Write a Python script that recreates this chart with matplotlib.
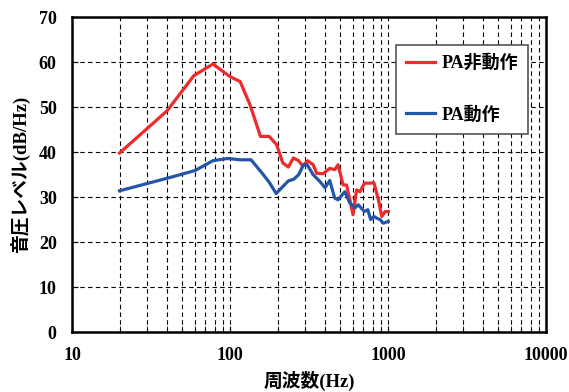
import matplotlib
matplotlib.use('Agg')
import matplotlib.pyplot as plt
from matplotlib.ticker import FixedLocator, NullFormatter

plt.rcParams['font.family'] = ['Liberation Serif', 'Noto Sans CJK JP']

# PA非動作 (red)
freq_off = [20, 40, 59, 78, 100, 116, 134, 156, 177, 197, 216, 234, 252, 272,
            289, 310, 336, 354, 389, 428, 460, 483, 520, 547, 574, 601, 633,
            665, 710, 770, 815, 870, 914, 960, 1005]
level_off = [39.8, 49.2, 57.0, 59.6, 56.8, 55.7, 50.5, 43.5, 43.5, 41.7, 37.6,
             36.7, 38.7, 38.1, 36.9, 38.1, 37.2, 35.3, 35.2, 36.4, 36.1, 37.2,
             32.7, 32.7, 29.4, 26.1, 31.6, 31.2, 33.1, 33.1, 33.2, 29.4, 25.7,
             26.8, 26.8]

# PA動作 (blue)
freq_on = [20, 40, 60, 78, 97, 116, 136, 160, 178, 196, 234, 254, 272, 292,
           308, 336, 370, 400, 428, 460, 483, 533, 574, 618, 648, 710, 746,
           777, 815, 851, 893, 934, 1005]
level_on = [31.4, 34.2, 35.9, 38.1, 38.6, 38.3, 38.3, 35.3, 33.2, 30.8, 33.6,
            34.0, 35.0, 37.2, 37.2, 35.0, 33.5, 32.1, 33.7, 29.8, 29.4, 31.2,
            28.7, 27.6, 28.3, 26.8, 27.2, 25.0, 25.7, 25.3, 25.0, 24.2, 24.6]

x_ticks = [10, 100, 1000, 10000]
y_ticks = [0, 10, 20, 30, 40, 50, 60, 70]

fig = plt.figure(figsize=(5.69, 3.92), dpi=100)
ax = fig.add_axes([0.1265, 0.153, 0.833, 0.803])

ax.plot(freq_off, level_off, color='#EE2A2A', lw=2.3, label='PA非動作')
ax.plot(freq_on, level_on, color='#2356A8', lw=2.3, label='PA動作')

ax.set_xscale('log')
ax.set_xlim(10, 10000)
ax.set_ylim(0, 70)
ax.xaxis.set_major_locator(FixedLocator(x_ticks))
ax.set_xticklabels([str(t) for t in x_ticks])
minor = [m * d for d in (10, 100, 1000) for m in range(2, 10)]
ax.xaxis.set_minor_locator(FixedLocator(minor))
ax.xaxis.set_minor_formatter(NullFormatter())
ax.set_yticks(y_ticks)

ax.grid(True, which='both', axis='x', color='black', ls=(0, (4, 3)), lw=0.8)
ax.grid(True, which='major', axis='y', color='black', ls=(0, (4, 3)), lw=0.8)

ax.tick_params(which='both', direction='in', labelsize=13, length=4)
ax.tick_params(axis='x', pad=11)
ax.tick_params(axis='y', pad=11)
for lab in ax.get_xticklabels() + ax.get_yticklabels():
    lab.set_fontweight('bold')
for s in ax.spines.values():
    s.set_linewidth(1.8)

ax.set_xlabel('周波数(Hz)', fontsize=13.5, fontweight='bold', labelpad=5)
ax.set_ylabel('音圧レベル(dB/Hz)', fontsize=13.5, fontweight='bold', labelpad=6)

leg = ax.legend(loc='upper right', bbox_to_anchor=(0.963, 0.913),
                prop={'weight': 'bold', 'size': 13}, frameon=True, fancybox=False,
                framealpha=1, facecolor='white', edgecolor='#555555',
                handlelength=1.6, labelspacing=1.9, borderpad=0.55,
                handletextpad=0.4, borderaxespad=0)
leg.get_frame().set_linewidth(1.2)

fig.savefig('out.png', dpi=100)
